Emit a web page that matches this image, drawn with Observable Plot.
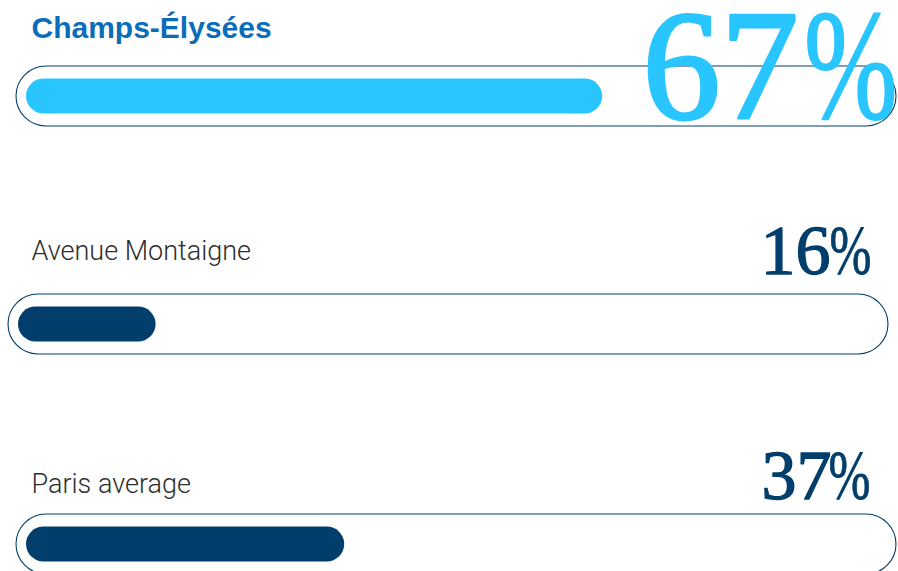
<!DOCTYPE html>
<html>
<head>
<meta charset="utf-8">
<script src="https://cdn.jsdelivr.net/npm/d3@7"></script>
<script src="https://cdn.jsdelivr.net/npm/@observablehq/plot@0.6"></script>
<style>
  html, body { margin: 0; padding: 0; background: #ffffff; }
  #chart svg { display: block; overflow: visible; }
</style>
</head>
<body>
<div id="chart"></div>
<script>
// ---- data ----
const categories = ["Champs-Élysées", "Avenue Montaigne", "Paris average"];
const shares = [67, 16, 37];           // percent
const unitLabel = "%";

// ---- colours / per-row styling (not data) ----
const CYAN = "#29c5ff";
const NAVY = "#023e6b";
const TITLE_BLUE = "#0a6dba";
const SERIF = "Liberation Serif, Times New Roman, serif";

const rowStyle = [
  {dx: 0,  dy: 0, bar: CYAN, labelFill: TITLE_BLUE, labelFont: "Liberation Sans, Arial, sans-serif", labelWeight: 700, labelSize: 30, labelDy: -58.5,
   pctFill: CYAN, pctSize: 156, numDx: -88, unitDx: 11, pctDy: 21.5, pctStroke: 3},
  {dx: -8, dy: 4, bar: NAVY, labelFill: "#2e2e2e", labelFont: "Roboto, sans-serif", labelWeight: 300, labelSize: 27, labelDy: -60.7,
   pctFill: NAVY, pctSize: 70, numDx: -56, unitDx: -15, pctDy: -47, pctStroke: 1.3},
  {dx: 0,  dy: 0, bar: NAVY, labelFill: "#2e2e2e", labelFont: "Roboto, sans-serif", labelWeight: 300, labelSize: 27, labelDy: -51.3,
   pctFill: NAVY, pctSize: 70, numDx: -55, unitDx: -16, pctDy: -45.5, pctStroke: 1.3}
];

const rows = categories.map((c, i) => ({category: c, value: shares[i]}));

const marks = [];
rows.forEach((r, i) => {
  const s = rowStyle[i];
  const d = [r];
  // outlined pill track
  marks.push(Plot.barX(d, {
    x1: () => 0, x2: () => 100, y: "category",
    insetLeft: -10, insetRight: -10, insetTop: 82, insetBottom: 82,
    rx: 30, ry: 30, fill: "white", stroke: NAVY, strokeWidth: 1.1,
    dx: s.dx, dy: s.dy
  }));
  // value bar
  marks.push(Plot.barX(d, {
    x1: () => 0, x2: "value", y: "category",
    insetTop: 94.5, insetBottom: 94.5,
    rx: 17.5, ry: 17.5, fill: s.bar,
    dx: s.dx, dy: s.dy
  }));
  // category label
  marks.push(Plot.text(d, {
    x: () => 0, y: "category", text: "category",
    textAnchor: "start", lineAnchor: "bottom",
    dx: 5, dy: s.labelDy,
    fill: s.labelFill, fontFamily: s.labelFont, fontWeight: s.labelWeight, fontSize: s.labelSize
  }));
  // big percentage: number part
  marks.push(Plot.text(d, {
    x: () => 100, y: "category", text: (v) => String(v.value),
    textAnchor: "end", lineAnchor: "bottom",
    dx: s.numDx, dy: s.pctDy,
    fill: s.pctFill, stroke: s.pctFill, strokeWidth: s.pctStroke, strokeLinejoin: "round",
    fontFamily: SERIF, fontWeight: 400, fontSize: s.pctSize
  }));
  // big percentage: unit sign
  marks.push(Plot.text(d, {
    x: () => 100, y: "category", text: () => unitLabel,
    textAnchor: "end", lineAnchor: "bottom",
    dx: s.unitDx, dy: s.pctDy,
    fill: s.pctFill, stroke: s.pctFill, strokeWidth: s.pctStroke * 0.6, strokeLinejoin: "round",
    fontFamily: SERIF, fontWeight: 400, fontSize: s.pctSize
  }));
});

const chart = Plot.plot({
  width: 898,
  height: 571,
  margin: 0,
  x: {domain: [0, 100], range: [26, 886], axis: null},
  y: {type: "band", domain: categories, range: [-16, 656], padding: 0, axis: null},
  style: {background: "white", overflow: "visible"},
  marks
});

// reshape the serif display figures: percent sign narrower, as in the display face
d3.select(chart).selectAll("text").filter(function () {
  const g = this.parentNode;
  const ff = g && g.getAttribute && g.getAttribute("font-family");
  return ff && ff.includes("Serif");
}).each(function () {
  const t = this.getAttribute("transform") || "";
  const k = this.textContent === unitLabel ? 0.72 : 1.0;
  this.setAttribute("transform", (t + ` scale(${k},1)`).trim());
});

document.getElementById("chart").appendChild(chart);
</script>
</body>
</html>
